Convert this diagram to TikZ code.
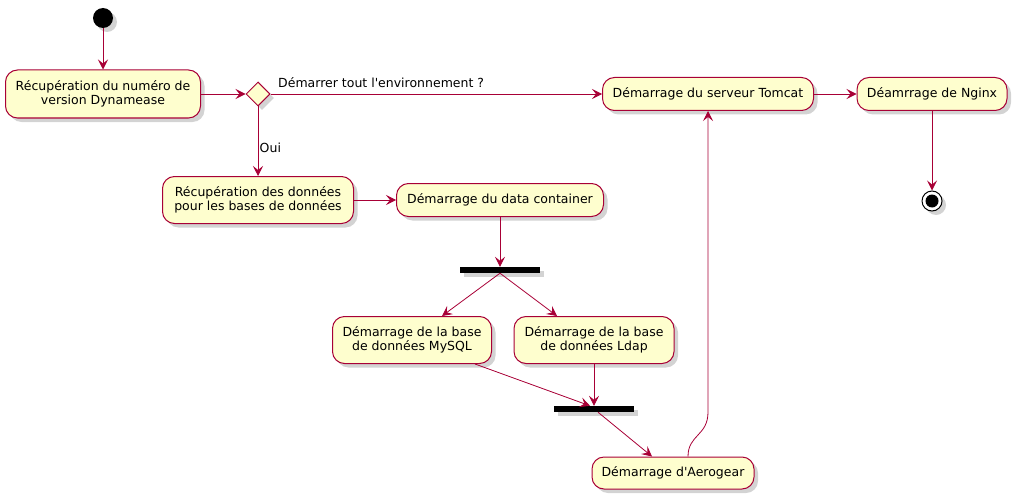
\documentclass[tikz,border=0pt]{standalone}
\usepackage{fontspec}
\setmainfont{DejaVu Sans}[Ligatures=TeXOff]
\usetikzlibrary{shapes.geometric, shadows, arrows.meta}
\definecolor{umlred}{HTML}{A80036}
\definecolor{umlfill}{HTML}{FEFECE}

\begin{document}
\begin{tikzpicture}[x=1pt, y=-1pt, >={Stealth[length=10pt,width=10pt,inset=4pt]},
  font=\fontsize{12.5}{14.5}\selectfont,
  shade/.style={drop shadow={opacity=.35, shadow xshift=4pt, shadow yshift=-4pt}},
  act/.style={shape=rectangle, draw=umlred, fill=umlfill, line width=1pt, rounded corners=12pt, align=center, inner sep=0pt, minimum height=33pt, shade},
  choice/.style={shape=diamond, draw=umlred, fill=umlfill, line width=1pt, inner sep=0pt, minimum width=24pt, minimum height=24pt, shade},
  bar/.style={shape=rectangle, fill=black, inner sep=0pt, minimum width=80pt, minimum height=6pt, shade},
  arr/.style={->, draw=umlred, line width=.8pt}]
\useasboundingbox (0,0) rectangle (1016,500);
\node[circle, fill=black, minimum size=20pt, inner sep=0pt, shade] (start) at (103,18) {};
\node[act, minimum width=195pt, minimum height=48pt] (version) at (103,94) {Récupération du numéro de\\version Dynamease};
\node[choice] (tout) at (258,94) {};
\node[act, minimum width=211pt] (tomcat) at (708,94) {Démarrage du serveur Tomcat};
\node[act, minimum width=150pt] (nginx) at (932,94) {Déamrrage de Nginx};
\node[circle, draw=black, fill=white, line width=1pt, minimum size=20pt, inner sep=0pt, shade] (stop) at (932,201) {};
\fill (stop.center) circle (6.5pt);
\node[act, minimum width=191pt, minimum height=47pt] (donnees) at (258,200) {Récupération des données\\pour les bases de données};
\node[act, minimum width=207pt] (data) at (500,200) {Démarrage du data container};
\node[bar] (fork) at (500,270) {};
\node[act, minimum width=159pt, minimum height=47pt] (mysql) at (412,340) {Démarrage de la base\\de données MySQL};
\node[act, minimum width=160pt, minimum height=47pt] (ldap) at (594,340) {Démarrage de la base\\de données Ldap};
\node[bar] (join) at (594,409) {};
\node[act, minimum width=162pt, minimum height=32pt] (aero) at (673,473) {Démarrage d'Aerogear};
\draw[arr] (start) -- (version);
\draw[arr] (version) -- (tout);
\draw[arr] (tout) -- node[above right, pos=0, xshift=4pt, yshift=3pt]{Démarrer tout l'environnement ?} (tomcat);
\draw[arr] (tomcat) -- (nginx);
\draw[arr] (nginx) -- (stop);
\draw[arr] (tout) -- node[right, pos=.6, xshift=-2pt]{Oui} (donnees);
\draw[arr] (donnees) -- (data);
\draw[arr] (data) -- (fork);
\draw[arr] (fork.south) -- ([xshift=30pt]mysql.north);
\draw[arr] (fork.south) -- ([xshift=-37pt]ldap.north);
\draw[arr] ([xshift=63pt]mysql.south) -- ([xshift=-4pt]join.north);
\draw[arr] (ldap) -- (join);
\draw[arr] ([xshift=4pt]join.south) -- ([xshift=-21pt]aero.north);
\draw[arr] ([xshift=15pt]aero.north) .. controls +(0,-22) and +(0,24) .. (tomcat.south |- 0,412) -- (tomcat.south);
\end{tikzpicture}
\end{document}
